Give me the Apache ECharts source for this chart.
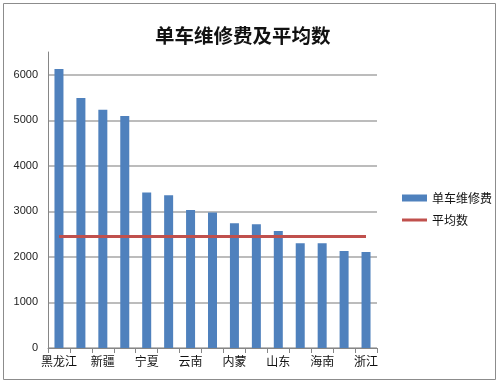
<!DOCTYPE html>
<html><head><meta charset="utf-8">
<script src="https://cdn.jsdelivr.net/npm/echarts@6/dist/echarts.min.js"></script>
<style>html,body{margin:0;padding:0;background:#fff}#c{width:500px;height:383px}</style>
</head><body><div id="c"></div>
<script>
const categories = ['黑龙江','吉林','新疆','青海','宁夏','甘肃','云南','贵州','内蒙','河北','山东','广西','海南','江苏','浙江'];
const repairCost = [6125,5488,5231,5092,3413,3355,3033,2974,2740,2718,2571,2300,2300,2132,2110];
const averageValue = [2447,2447,2447,2447,2447,2447,2447,2447,2447,2447,2447,2447,2447,2447,2447];
const yTicks = [0,1000,2000,3000,4000,5000,6000];

const chart = echarts.init(document.getElementById('c'), null, {renderer:'canvas'});
const font = '"Noto Sans CJK SC", sans-serif';
chart.setOption({
  backgroundColor:'#fff',
  animation:false,
  graphic:[{type:'rect',shape:{x:3.5,y:3.5,width:492,height:376},style:{fill:'none',stroke:'#8c8c8c',lineWidth:1},silent:true}],
  title:{text:'单车维修费及平均数',left:150,top:21,
    textStyle:{fontFamily:font,fontSize:19.5,fontWeight:'bold',color:'#111'}},
  legend:{orient:'vertical',left:397,top:187,itemWidth:25,itemHeight:7,itemGap:10,
    textStyle:{fontFamily:font,fontSize:12,color:'#111'},
    data:[{name:'单车维修费',icon:'rect'},
          {name:'平均数',icon:'path://M0 2H25V5H0Z'}]},
  grid:{left:48,right:123,top:52,bottom:35},
  xAxis:{type:'category',data:categories,
    axisLine:{lineStyle:{color:'#868686'}},
    axisTick:{show:true,interval:0,alignWithLabel:false,length:5,lineStyle:{color:'#868686'}},
    axisLabel:{interval:1,margin:7,fontFamily:font,fontSize:12,color:'#111'}},
  yAxis:{type:'value',min:0,max:6500,interval:1000,
    axisLine:{show:true,lineStyle:{color:'#868686'}},
    axisTick:{show:false},
    axisLabel:{showMaxLabel:false,margin:10,fontFamily:'"Liberation Sans", sans-serif',fontSize:11,color:'#222',
      formatter:v=>yTicks.indexOf(v)>=0?String(v):''},
    splitLine:{show:true,showMaxLine:false,lineStyle:{color:'#a6a6a6',width:1.5}}},
  series:[
    {name:'单车维修费',type:'bar',data:repairCost,barWidth:9,itemStyle:{color:'#4f81bd'}},
    {name:'平均数',type:'line',data:averageValue,symbol:'none',z:5,
      lineStyle:{color:'#c0504d',width:3},itemStyle:{color:'#c0504d'}}
  ]
});
</script></body></html>
